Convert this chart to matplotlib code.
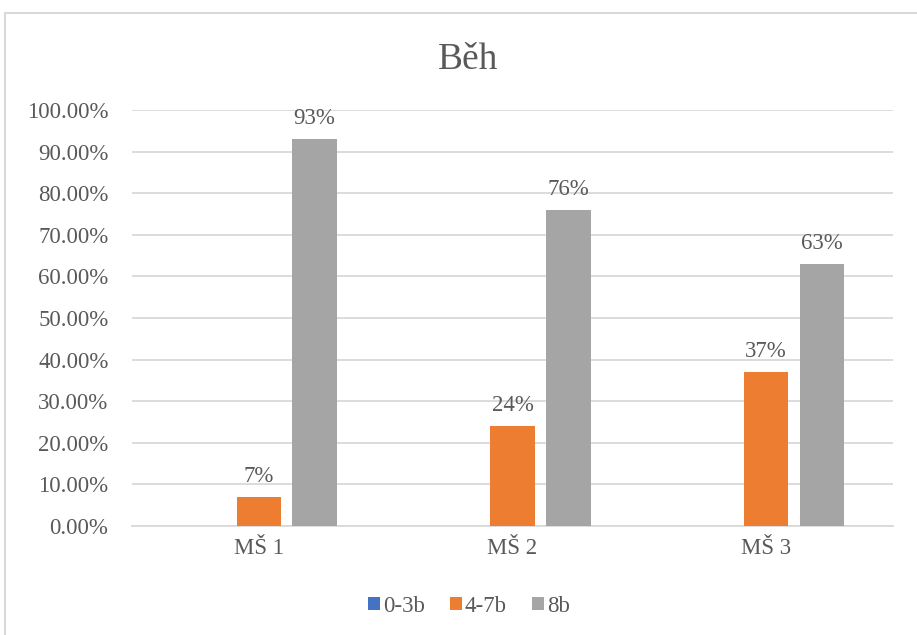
import numpy as np
import matplotlib.pyplot as plt
from matplotlib.patches import Rectangle

plt.rcParams['font.family'] = ['Liberation Serif', 'DejaVu Serif']

skoly = ['MŠ 1', 'MŠ 2', 'MŠ 3']
serie = ['0-3b', '4-7b', '8b']
hodnoty = {
    '0-3b': [0, 0, 0],
    '4-7b': [7, 24, 37],
    '8b': [93, 76, 63],
}
popisky = ['4-7b', '8b']
barvy = {'0-3b': '#4472C4', '4-7b': '#ED7D31', '8b': '#A5A5A5'}
yticks = np.arange(0, 101, 10)

text_col = '#595959'
grid_col = '#D9D9D9'
fs = 16.5

fig = plt.figure(figsize=(9.17, 6.35), dpi=100)
ax = fig.add_axes([132 / 917, 1 - 526 / 635, 761 / 917, 416 / 635])

x = np.arange(len(skoly))
sirka = 0.175
posun = 0.22
for i, s in enumerate(serie):
    bars = ax.bar(x + (i - 1) * posun, hodnoty[s], sirka, color=barvy[s],
                  label=s, zorder=3)
    if s in popisky:
        for b, v in zip(bars, hodnoty[s]):
            ax.annotate('%d%%' % v, (b.get_x() + b.get_width() / 2, v),
                        xytext=(0, 7), textcoords='offset points',
                        ha='center', va='bottom', fontsize=fs, color=text_col)

ax.set_xlim(-0.5, len(skoly) - 0.5)
ax.set_ylim(0, 100)
ax.set_yticks(yticks)
ax.set_yticklabels(['%.2f%%' % v for v in yticks])
ax.set_xticks(x)
ax.set_xticklabels(skoly)
ax.tick_params(axis='both', length=0, labelsize=fs, colors=text_col)
ax.tick_params(axis='y', pad=17)
ax.tick_params(axis='x', pad=9)
ax.grid(axis='y', color=grid_col, linewidth=1.3, zorder=0)
for side in ['top', 'right', 'left']:
    ax.spines[side].set_visible(False)
ax.spines['bottom'].set_color(grid_col)
ax.spines['bottom'].set_linewidth(1.3)

fig.text(468 / 917, 1 - 60 / 635, 'Běh', ha='center', va='center',
         fontsize=27, color=text_col)

fig.legend(loc='center', bbox_to_anchor=(469 / 917, 1 - 606 / 635), ncol=3,
           frameon=False, fontsize=fs, handlelength=0.5, handleheight=0.5,
           handletextpad=0.15, columnspacing=1.1, labelcolor=text_col)

# rameček grafu
fig.add_artist(Rectangle((5 / 917, -0.1), 1.2, 1.1 - 13 / 635,
                         transform=fig.transFigure, fill=False,
                         edgecolor=grid_col, linewidth=1.5, clip_on=False))

fig.savefig('out.png', dpi=100)
